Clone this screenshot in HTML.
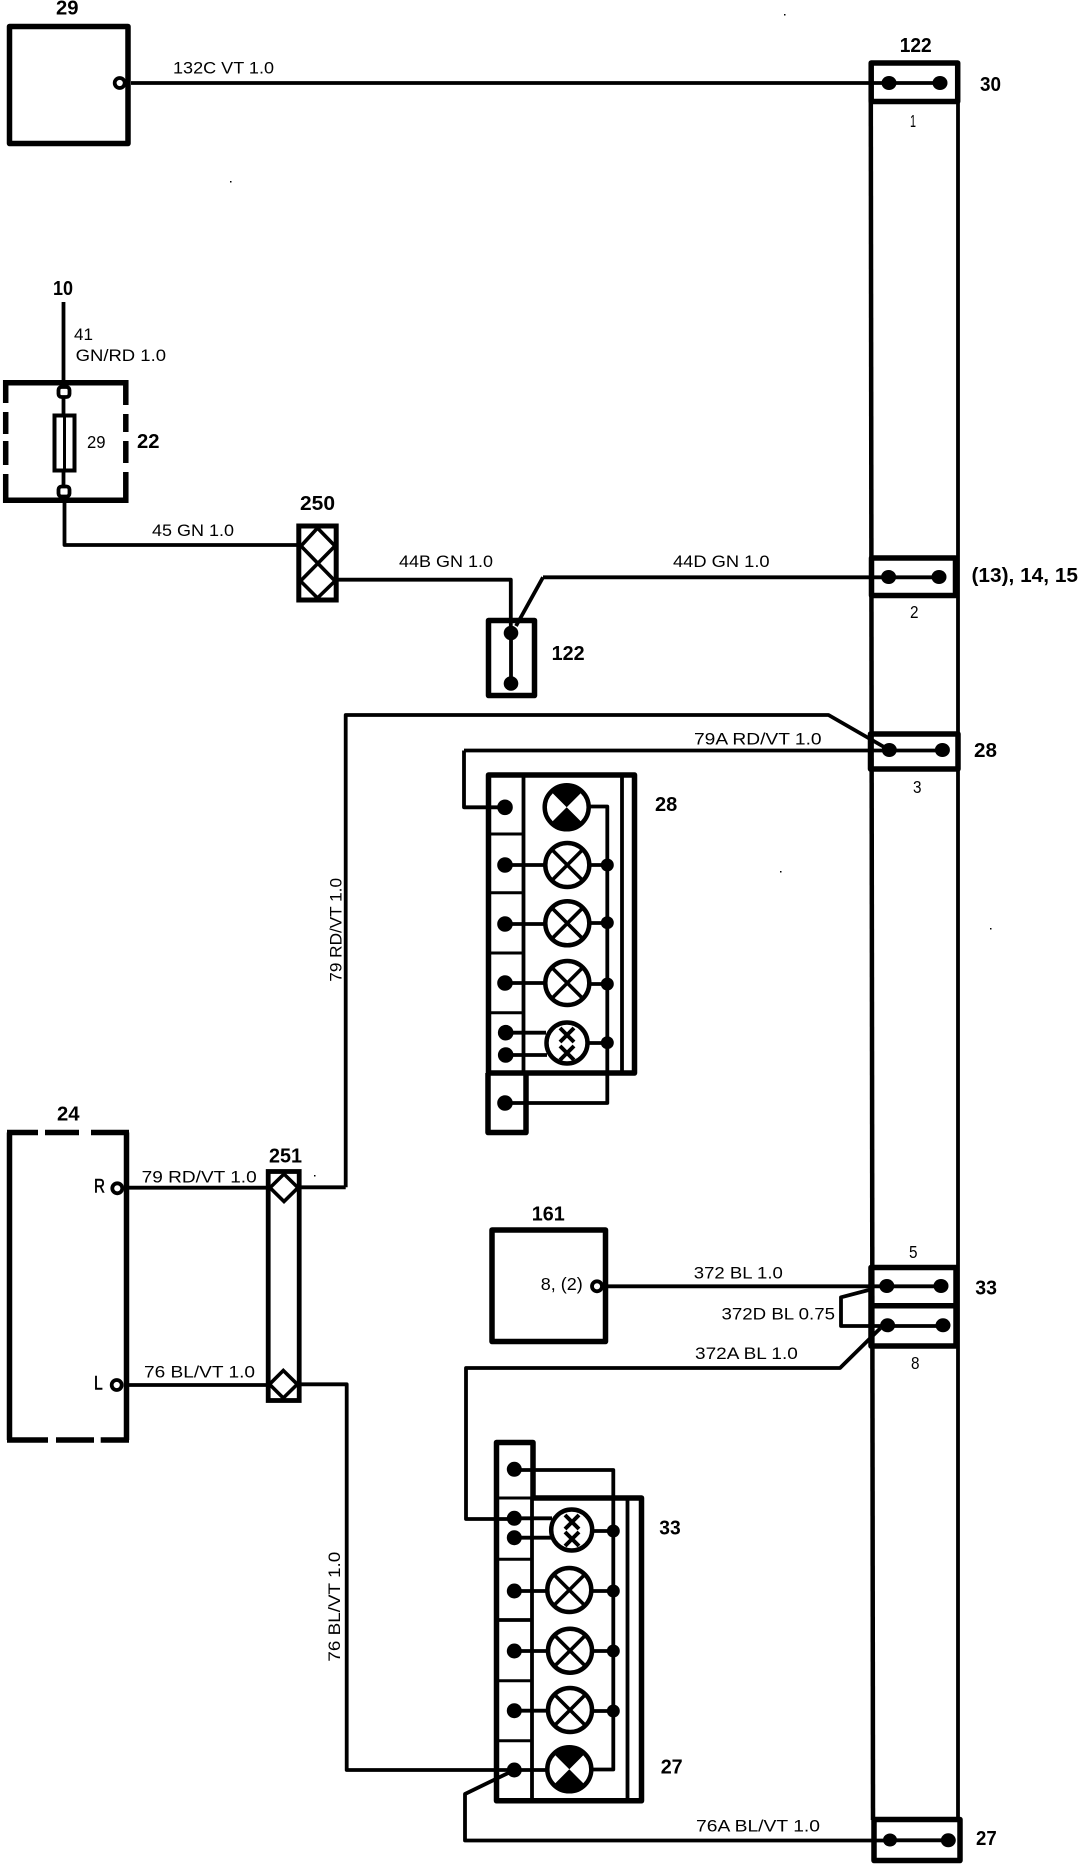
<!DOCTYPE html>
<html>
<head>
<meta charset="utf-8">
<style>
html,body{margin:0;padding:0;background:#fff;width:1088px;height:1864px;overflow:hidden}
svg{display:block}
text{fill:#000;stroke:none;font-family:"Liberation Sans",sans-serif}
.b{font-weight:bold;font-size:20px}
.n{font-size:19px;stroke:#000;stroke-width:.5}
.t{font-size:17px}
.s{font-size:17.5px}
.w{fill:none;stroke:#000;stroke-width:3.8;stroke-linejoin:round}
.th{fill:none;stroke:#000;stroke-width:5.5;stroke-linejoin:round}
.tk{fill:none;stroke:#000;stroke-width:3}
.c{fill:#fff;stroke:#000;stroke-width:3.8}
.p{fill:#000}
.l{fill:#fff;stroke:#000;stroke-width:4.5}
.x{fill:none;stroke:#000;stroke-width:3.6}
</style>
</head>
<body>
<svg width="1088" height="1864" viewBox="0 0 1088 1864" xmlns="http://www.w3.org/2000/svg">
<rect width="1088" height="1864" fill="#fff"/>

<!-- box 29 -->
<rect x="9.5" y="26.5" width="118.5" height="117" class="th"/>
<text class="b" x="56" y="14.5" textLength="22.5" lengthAdjust="spacingAndGlyphs">29</text>
<path class="w" d="M131 83H889"/>
<circle cx="119.7" cy="83" r="5" class="c"/>
<text class="t" x="173" y="73.5" textLength="101" lengthAdjust="spacingAndGlyphs">132C VT 1.0</text>

<!-- bus -->
<path class="th" style="stroke-width:4.5" d="M870.8 100L873 1820"/>
<path class="w" d="M958 100V1820"/>
<rect x="871.2" y="63" width="86.5" height="38.5" class="th"/>
<text class="b" x="899.7" y="52" textLength="32" lengthAdjust="spacingAndGlyphs">122</text>
<text class="b" x="980" y="91" textLength="21" lengthAdjust="spacingAndGlyphs">30</text>
<text class="s" x="910" y="127" textLength="6" lengthAdjust="spacingAndGlyphs">1</text>
<path class="w" d="M889 83H940"/>
<ellipse cx="889" cy="83" rx="7.5" ry="7" class="p"/><ellipse cx="940" cy="83" rx="7.5" ry="7" class="p"/>

<rect x="871.5" y="558" width="84" height="37.5" class="th" fill="#fff"/>
<path class="w" d="M543 577.3H939"/>
<ellipse cx="888.6" cy="577" rx="7.5" ry="7" class="p"/><ellipse cx="939" cy="577" rx="7.5" ry="7" class="p"/>
<text class="t" x="673" y="567" textLength="96.6" lengthAdjust="spacingAndGlyphs">44D GN 1.0</text>
<text class="b" x="971.5" y="582" textLength="106.5" lengthAdjust="spacingAndGlyphs">(13), 14, 15</text>
<text class="s" x="910" y="618" textLength="8.5" lengthAdjust="spacingAndGlyphs">2</text>

<rect x="870.5" y="734" width="87.5" height="35" class="th"/>
<path class="w" d="M464 750.5H942"/>
<ellipse cx="889.3" cy="750" rx="7.5" ry="7" class="p"/><ellipse cx="942.4" cy="750" rx="7.5" ry="7" class="p"/>
<text class="t" x="694" y="744.5" textLength="127.6" lengthAdjust="spacingAndGlyphs">79A RD/VT 1.0</text>
<text class="b" x="974" y="757" textLength="23" lengthAdjust="spacingAndGlyphs">28</text>
<text class="s" x="913" y="793" textLength="8.5" lengthAdjust="spacingAndGlyphs">3</text>
<path class="w" d="M345.7 1187.3V715H828.5L889.3 750"/>

<!-- 10 / fuse 22 -->
<text class="b" x="53" y="295" textLength="20" lengthAdjust="spacingAndGlyphs">10</text>
<text class="t" x="74" y="340" textLength="19" lengthAdjust="spacingAndGlyphs">41</text>
<text class="t" x="75.6" y="361" textLength="90.4" lengthAdjust="spacingAndGlyphs">GN/RD 1.0</text>
<path class="w" d="M63.5 302V491"/>
<path class="th" d="M3 382.7H128.4M3 500.3H128.4"/>
<path class="th" stroke-linecap="butt" d="M5.7 380V403M5.7 412V434M5.7 441V465M5.7 474V503M125.8 380V405M125.8 414V432M125.8 441V463M125.8 472V503"/>
<rect x="54.5" y="415.5" width="20" height="55" fill="#fff" stroke="#000" stroke-width="4"/>
<path class="tk" d="M64.5 415V471"/>
<rect x="58.5" y="387" width="11" height="10" rx="3" class="c"/>
<rect x="58.5" y="486.5" width="11" height="10" rx="3" class="c"/>
<text class="s" x="87" y="448" textLength="18.5" lengthAdjust="spacingAndGlyphs">29</text>
<text class="b" x="137" y="448" textLength="22.5" lengthAdjust="spacingAndGlyphs">22</text>

<path class="w" d="M64.5 503V545H297"/>
<text class="t" x="152" y="536" textLength="82" lengthAdjust="spacingAndGlyphs">45 GN 1.0</text>

<!-- 250 -->
<text class="b" x="300" y="510" textLength="35" lengthAdjust="spacingAndGlyphs">250</text>
<rect x="298.8" y="526" width="37.4" height="74" fill="none" stroke="#000" stroke-width="5"/>
<path class="x" d="M301 546L317.5 528L335 546L300.5 581L317.5 598L335 581L301 546"/>
<path class="w" d="M338 579.7H510.8V633"/>
<text class="t" x="399" y="567" textLength="94" lengthAdjust="spacingAndGlyphs">44B GN 1.0</text>

<!-- 122 middle -->
<rect x="488.5" y="620.5" width="46" height="75" class="th"/>
<path class="w" d="M511 633V683.5M516 626L543 577.3"/>
<circle cx="511" cy="633" r="7.3" class="p"/><circle cx="511" cy="683.5" r="7.3" class="p"/>
<text class="b" x="551.6" y="660" textLength="33" lengthAdjust="spacingAndGlyphs">122</text>

<!-- panel 28 -->
<path class="th" d="M488.5 775H634.5V1073H488.5Z"/>
<path class="th" d="M488 1073V1132.5H526V1073"/>
<path class="w" d="M523.5 776V1071M622 776V1071"/>
<path class="tk" d="M490 834H522M490 892.7H522M490 953H522M490 1012.7H522"/>
<path class="w" d="M464 750.5V807.3H505M505 865H545M505 924H545M505 983H545M505.7 1032.7H546M505.7 1055H547M505 1103H607.3V806.5H590M590 865H607M590 923H607M590 984H607M588 1043H607"/>
<g>
<circle cx="505" cy="807.3" r="7.8" class="p"/>
<circle cx="505" cy="865" r="7.8" class="p"/>
<circle cx="505" cy="924" r="7.8" class="p"/>
<circle cx="505" cy="983" r="7.8" class="p"/>
<circle cx="505.7" cy="1032.7" r="7.8" class="p"/>
<circle cx="505.7" cy="1055" r="7.8" class="p"/>
<circle cx="505" cy="1103" r="7.8" class="p"/>
<circle cx="607.3" cy="865" r="6.5" class="p"/>
<circle cx="607.3" cy="922.7" r="6.5" class="p"/>
<circle cx="607.3" cy="984" r="6.5" class="p"/>
<circle cx="607.3" cy="1042.7" r="6.5" class="p"/>
</g>
<circle cx="566.7" cy="807.3" r="22" class="l"/>
<path class="p" d="M550.7 791.3A22.5 22.5 0 0 1 582.7 791.3L566.7 807.3ZM550.7 823.3A22.5 22.5 0 0 0 582.7 823.3L566.7 807.3Z"/>
<circle cx="567.3" cy="865" r="22" class="l"/><path class="x" d="M551.3 849L583.3 881M583.3 849L551.3 881"/>
<circle cx="567.3" cy="923.3" r="22" class="l"/><path class="x" d="M551.3 907.3L583.3 939.3M583.3 907.3L551.3 939.3"/>
<circle cx="567.3" cy="983" r="22" class="l"/><path class="x" d="M551.3 967L583.3 999M583.3 967L551.3 999"/>
<circle cx="567" cy="1043" r="20.5" class="l"/>
<path class="x" style="stroke-width:4" d="M560 1028L574 1042M574 1028L560 1042M560 1046L574 1060M574 1046L560 1060"/>
<text class="b" x="655" y="811" textLength="22.3" lengthAdjust="spacingAndGlyphs">28</text>

<text class="t" transform="translate(341.5 981.7) rotate(-90)" textLength="103.7" lengthAdjust="spacingAndGlyphs">79 RD/VT 1.0</text>

<!-- box 24 -->
<path class="th" d="M9.5 1132.5V1440M126.5 1132.5V1440"/>
<path class="th" stroke-linecap="butt" d="M7 1132.5H38M45 1132.5H79M91 1132.5H129M7 1440H48M56 1440H94M100.7 1440H129"/>
<text class="b" x="57" y="1120.7" textLength="22.5" lengthAdjust="spacingAndGlyphs">24</text>
<text class="n" x="94" y="1192.7" textLength="11" lengthAdjust="spacingAndGlyphs">R</text>
<text class="n" x="94" y="1389.3" textLength="8.7" lengthAdjust="spacingAndGlyphs">L</text>
<path class="w" d="M129 1187.7H268M129 1385H268"/>
<circle cx="117.3" cy="1188.3" r="5" class="c"/>
<circle cx="116.7" cy="1385" r="5" class="c"/>
<text class="t" x="141.7" y="1182.7" textLength="115" lengthAdjust="spacingAndGlyphs">79 RD/VT 1.0</text>
<text class="t" x="144" y="1377.3" textLength="111" lengthAdjust="spacingAndGlyphs">76 BL/VT 1.0</text>

<!-- 251 -->
<text class="b" x="269" y="1162.3" textLength="33" lengthAdjust="spacingAndGlyphs">251</text>
<rect x="268.2" y="1171.5" width="31" height="229" fill="#fff" stroke="#000" stroke-width="4.8"/>
<path class="x" d="M284 1174L298 1187.7L284 1201.5L270 1187.7Z"/>
<path class="x" d="M283.3 1370.5L297.3 1384.3L283.3 1398L269.5 1384.3Z"/>
<path class="w" d="M301 1187.3H345.7"/>
<path class="w" d="M301 1384.3H346.7V1770H514"/>
<text class="t" transform="translate(340 1661.7) rotate(-90)" textLength="110" lengthAdjust="spacingAndGlyphs">76 BL/VT 1.0</text>

<!-- 161 -->
<rect x="492" y="1230" width="113.5" height="111.5" class="th"/>
<text class="b" x="531.8" y="1220.7" textLength="33" lengthAdjust="spacingAndGlyphs">161</text>
<text class="s" x="540.8" y="1290" textLength="42" lengthAdjust="spacingAndGlyphs">8, (2)</text>
<circle cx="597" cy="1286.3" r="5" class="c"/>
<path class="w" d="M608 1286.3H941"/>
<text class="t" x="693.8" y="1278.3" textLength="89" lengthAdjust="spacingAndGlyphs">372 BL 1.0</text>

<!-- blocks 5 / 8 -->
<path class="th" d="M871 1267.5H956V1346H871ZM871 1305.8H956"/>
<path class="w" d="M872.5 1289L841 1297.3V1326H943"/>
<path class="w" d="M880.6 1328L840 1368H466V1519H514"/>
<ellipse cx="886.8" cy="1286" rx="7.5" ry="7" class="p"/><ellipse cx="941" cy="1286" rx="7.5" ry="7" class="p"/>
<ellipse cx="887.6" cy="1325.3" rx="7.5" ry="7" class="p"/><ellipse cx="943" cy="1325.3" rx="7.5" ry="7" class="p"/>
<text class="s" x="909" y="1258" textLength="8.5" lengthAdjust="spacingAndGlyphs">5</text>
<text class="s" x="911" y="1369" textLength="8.5" lengthAdjust="spacingAndGlyphs">8</text>
<text class="b" x="975.3" y="1294.3" textLength="21.7" lengthAdjust="spacingAndGlyphs">33</text>
<text class="t" x="721.5" y="1319.3" textLength="113.5" lengthAdjust="spacingAndGlyphs">372D BL 0.75</text>
<text class="t" x="695" y="1359" textLength="102.8" lengthAdjust="spacingAndGlyphs">372A BL 1.0</text>

<!-- panel 27/33 -->
<path class="th" d="M496.5 1442.5H533V1498H641.5V1800.8H496.5Z"/>
<path class="w" d="M532 1498V1800M627.5 1498V1800"/>
<path class="tk" d="M498 1498H531M498 1559.3H531M498 1680.7H531M498 1740.7H531"/>
<path class="w" d="M498 1620H531"/>
<path class="w" d="M514.3 1470H613.3V1769.5H590M514.3 1537.7H552M514.3 1518.3H552M514.3 1591H548M514.3 1651H548M514.3 1710.7H548M514 1770H548M592 1531H613M592 1591H613M592 1651H613M592 1711H613"/>
<path class="w" d="M514.3 1770L465 1794V1840.5H890"/>
<circle cx="514.3" cy="1469.3" r="7.5" class="p"/>
<circle cx="514.3" cy="1518.3" r="7.5" class="p"/>
<circle cx="514.3" cy="1537.7" r="7.5" class="p"/>
<circle cx="514.3" cy="1591" r="7.5" class="p"/>
<circle cx="514.3" cy="1651" r="7.5" class="p"/>
<circle cx="514.3" cy="1710.7" r="7.5" class="p"/>
<circle cx="514.3" cy="1770" r="7.5" class="p"/>
<circle cx="613.3" cy="1531" r="6.5" class="p"/>
<circle cx="613.3" cy="1591" r="6.5" class="p"/>
<circle cx="613.3" cy="1651" r="6.5" class="p"/>
<circle cx="613.3" cy="1711" r="6.5" class="p"/>
<circle cx="571.7" cy="1530" r="20.5" class="l"/>
<path class="x" style="stroke-width:4" d="M565 1515L579 1529M579 1515L565 1529M565 1532L579 1546M579 1532L565 1546"/>
<circle cx="569.3" cy="1590" r="22" class="l"/><path class="x" d="M553.3 1574L585.3 1606M585.3 1574L553.3 1606"/>
<circle cx="570" cy="1650.7" r="22" class="l"/><path class="x" d="M554 1634.7L586 1666.7M586 1634.7L554 1666.7"/>
<circle cx="570" cy="1710" r="22" class="l"/><path class="x" d="M554 1694L586 1726M586 1694L554 1726"/>
<circle cx="569.3" cy="1769.3" r="22" class="l"/>
<path class="p" d="M553.3 1753.3A22.5 22.5 0 0 1 585.3 1753.3L569.3 1769.3ZM553.3 1785.3A22.5 22.5 0 0 0 585.3 1785.3L569.3 1769.3Z"/>
<text class="b" x="659.3" y="1534.3" textLength="21.4" lengthAdjust="spacingAndGlyphs">33</text>
<text class="b" x="660.7" y="1773.3" textLength="22" lengthAdjust="spacingAndGlyphs">27</text>

<!-- block 27 -->
<rect x="874" y="1819.5" width="86" height="41" class="th" fill="none"/>
<path class="w" d="M890 1840.3H948"/>
<ellipse cx="890" cy="1840" rx="7" ry="6.5" class="p"/><ellipse cx="948.3" cy="1840.3" rx="7.5" ry="7" class="p"/>
<text class="t" x="696" y="1831.7" textLength="124" lengthAdjust="spacingAndGlyphs">76A BL/VT 1.0</text>
<text class="b" x="976" y="1845" textLength="20.7" lengthAdjust="spacingAndGlyphs">27</text>

<!-- specks -->
<g class="p"><rect x="230" y="181" width="1.5" height="1.5"/><rect x="784" y="14" width="1.5" height="1.5"/><rect x="780" y="871" width="1.5" height="1.5"/><rect x="990" y="928" width="1.5" height="1.5"/><rect x="314" y="1175" width="1.5" height="1.5"/></g>
</svg>
</body>
</html>
